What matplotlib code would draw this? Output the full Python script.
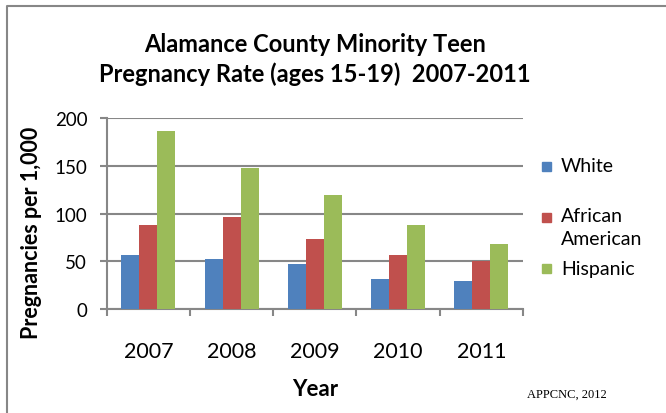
#!/usr/bin/env python
from matplotlib import pyplot as plt
from matplotlib.lines import Line2D
from matplotlib.patches import Rectangle
import numpy as np

#DATA------------------------------------------
years = ['2007', '2008', '2009', '2010', '2011']
white = [57, 53, 47, 32, 30]
african_american = [88, 96, 74, 57, 51]
hispanic = [186, 148, 119, 88, 68]
series_names = ['White', 'African\nAmerican', 'Hispanic']
colors = ['#4F81BD', '#C0504D', '#9BBB59']
#----------------------------------------------

plt.rcParams['font.family'] = ['Lato', 'DejaVu Sans']
grid_col = '#878787'

W, H = 666, 414
fig = plt.figure(figsize=(W/100, H/100), dpi=100)
ax = fig.add_axes([106.7/W, 1-310.3/H, (523-106.7)/W, (310.3-119)/H])

x = np.arange(len(years))
bw = 0.216
for k, vals in enumerate([white, african_american, hispanic]):
  ax.bar(x + (k-1)*bw, vals, bw, color=colors[k], zorder=3)

ax.set_xlim(-0.5, len(years)-0.5)
ax.set_ylim(0, 200)
ax.set_yticks(np.arange(0, 201, 50))
ax.yaxis.grid(True, color=grid_col, lw=1.5, zorder=0)
for s in ['top', 'right']:
  ax.spines[s].set_visible(False)
for s in ['left', 'bottom']:
  ax.spines[s].set_color(grid_col)
  ax.spines[s].set_linewidth(1.5)
ax.tick_params(axis='y', length=5, width=1.5, color=grid_col, labelsize=13.5, pad=9)

# category boundaries as major ticks, labels on minor ticks
ax.set_xticks(np.arange(-0.5, len(years), 1.0))
ax.set_xticklabels([])
ax.set_xticks(x, minor=True)
ax.set_xticklabels(years, minor=True)
ax.tick_params(axis='x', which='major', length=5, width=1.5, color=grid_col)
ax.tick_params(axis='x', which='minor', length=0, labelsize=15.5, pad=23)

#TEXTS-----------------------------------------
fig.text(315/W, 1-33/H, 'Alamance County Minority Teen\nPregnancy Rate (ages 15-19)  2007-2011',
         ha='center', va='top', fontsize=17, fontweight='bold', linespacing=1.35)
fig.text(32/W, 1-233/H, 'Pregnancies per 1,000', rotation=90, ha='center', va='center',
         fontsize=15.5, fontweight='bold')
fig.text(315/W, 1-390/H, 'Year', ha='center', va='center', fontsize=16, fontweight='bold')
fig.text(527/W, 1-395/H, 'APPCNC, 2012', ha='left', va='center', fontsize=9,
         family='Liberation Serif')

#LEGEND----------------------------------------
leg_y = [167, 218, 269]
for name, c, yy in zip(series_names, colors, leg_y):
  fig.patches.append(Rectangle((542/W, 1-(yy+4.5)/H), 9/W, 9/H, color=c,
                               transform=fig.transFigure))
  if '\n' in name:
    fig.text(561/W, 1-(yy-10)/H, name, ha='left', va='top', fontsize=14, linespacing=1.45)
  else:
    fig.text(561/W, 1-yy/H, name, ha='left', va='center', fontsize=14)

#BORDER----------------------------------------
fig.add_artist(Line2D([6.5/W, 6.5/W, 1], [0, 1-6.5/H, 1-6.5/H], color=grid_col, lw=1.5,
                      transform=fig.transFigure))

fig.savefig('out.png', dpi=100)
